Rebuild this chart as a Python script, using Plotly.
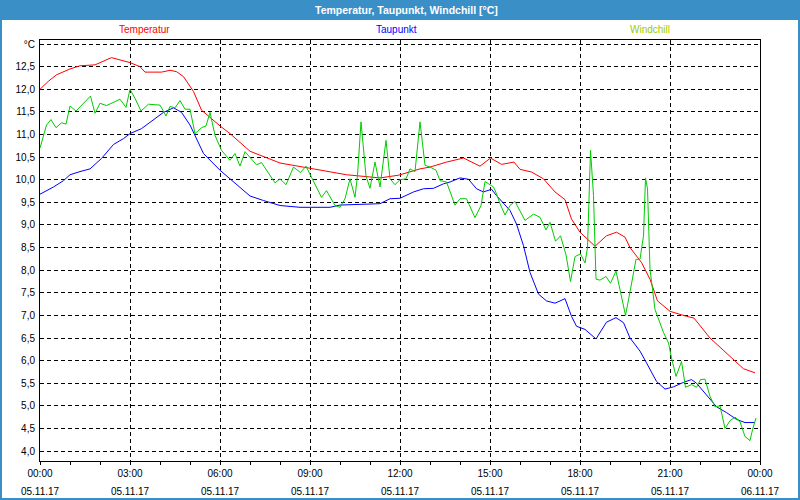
import plotly.graph_objects as go
import pandas as pd

DAY = "2017-11-05"

# Temperatur (minutes after midnight, °C)
temp_min = [0, 17, 33, 60, 80, 110, 143, 167, 180, 200, 210, 243, 260, 273, 287, 307, 323, 360, 380, 420,
            480, 547, 613, 680, 717, 760, 780, 813, 847, 880, 901, 923, 948, 960, 983, 1007, 1030, 1050,
            1063, 1080, 1110, 1133, 1153, 1170, 1180, 1203, 1220, 1235, 1260, 1293, 1308, 1340, 1373,
            1383, 1407, 1430]
temp_val = [12.00, 12.18, 12.32, 12.45, 12.52, 12.54, 12.70, 12.63, 12.59, 12.50, 12.38, 12.38, 12.42, 12.39,
            12.28, 11.95, 11.54, 11.19, 11.02, 10.63, 10.37, 10.24, 10.11, 10.04, 10.10, 10.24, 10.28, 10.39,
            10.48, 10.30, 10.48, 10.34, 10.39, 10.23, 10.17, 10.02, 9.73, 9.56, 9.13, 8.84, 8.53, 8.76, 8.84,
            8.73, 8.50, 8.17, 7.80, 7.32, 7.09, 6.98, 6.94, 6.50, 6.17, 6.06, 5.82, 5.73]

# Taupunkt
dew_min = [0, 27, 47, 60, 80, 100, 123, 147, 167, 180, 203, 227, 247, 267, 283, 300, 327, 360, 387, 420,
           447, 480, 520, 580, 600, 680, 700, 720, 747, 767, 787, 807, 820, 840, 857, 873, 887, 903, 913,
           940, 953, 967, 980, 997, 1013, 1030, 1050, 1063, 1073, 1090, 1112, 1133, 1152, 1167, 1180, 1200,
           1213, 1233, 1250, 1267, 1287, 1303, 1313, 1333, 1353, 1373, 1393, 1410, 1430]
dew_val = [9.68, 9.84, 9.98, 10.11, 10.18, 10.24, 10.47, 10.78, 10.91, 11.02, 11.13, 11.32, 11.49, 11.59,
           11.49, 11.21, 10.58, 10.21, 9.95, 9.64, 9.54, 9.43, 9.39, 9.39, 9.44, 9.47, 9.58, 9.59, 9.73, 9.80,
           9.81, 9.91, 9.95, 10.04, 10.01, 9.80, 9.73, 9.79, 9.65, 9.32, 9.02, 8.54, 7.95, 7.47, 7.32, 7.27,
           7.37, 6.98, 6.76, 6.69, 6.48, 6.85, 6.95, 6.84, 6.50, 6.21, 5.95, 5.54, 5.37, 5.42, 5.52, 5.58,
           5.50, 5.24, 4.98, 4.85, 4.70, 4.63, 4.63]

# Windchill
wc_min = [0, 13, 22, 32, 43, 52, 60, 72, 101, 110, 120, 133, 160, 172, 180, 190, 202, 217, 240, 252, 260,
          270, 280, 290, 300, 310, 323, 332, 340, 350, 363, 380, 390, 400, 410, 423, 433, 443, 470, 480,
          492, 507, 521, 532, 543, 563, 573, 590, 600, 610, 620, 630, 635, 642, 652, 660, 670, 680, 692,
          700, 710, 720, 732, 740, 750, 760, 770, 780, 792, 800, 813, 830, 840, 853, 870, 882, 890, 907,
          913, 920, 930, 940, 950, 970, 987, 1000, 1012, 1020, 1031, 1041, 1052, 1061, 1070, 1081, 1090,
          1095, 1101, 1107, 1112, 1120, 1132, 1141, 1152, 1161, 1171, 1180, 1192, 1200, 1207, 1211, 1215,
          1220, 1230, 1247, 1257, 1263, 1272, 1283, 1291, 1303, 1313, 1321, 1330, 1340, 1350, 1360, 1370,
          1380, 1390, 1400, 1410, 1420, 1425, 1432]
wc_val = [10.70, 11.21, 11.33, 11.15, 11.26, 11.23, 11.63, 11.52, 11.85, 11.47, 11.69, 11.64, 11.78, 11.60,
          12.00, 11.80, 11.52, 11.67, 11.65, 11.41, 11.62, 11.59, 11.75, 11.56, 11.56, 11.02, 11.15, 11.19,
          11.49, 10.98, 10.65, 10.43, 10.58, 10.30, 10.62, 10.45, 10.33, 10.38, 9.93, 10.02, 9.89, 10.28,
          10.16, 10.30, 10.06, 9.61, 9.76, 9.43, 9.39, 9.58, 10.02, 9.61, 10.10, 11.28, 10.08, 9.81, 10.39,
          9.84, 10.87, 10.02, 9.89, 10.00, 10.02, 10.24, 10.18, 11.28, 10.32, 10.28, 10.21, 9.98, 9.95, 9.44,
          9.58, 9.58, 9.16, 9.43, 9.96, 9.84, 9.69, 9.47, 9.22, 9.43, 9.52, 9.10, 9.24, 9.17, 8.89, 9.06,
          8.64, 8.76, 8.34, 7.75, 8.30, 8.36, 8.16, 8.50, 10.65, 9.65, 7.80, 7.78, 7.86, 7.71, 7.98, 7.50,
          7.00, 7.52, 8.24, 8.24, 8.76, 10.04, 9.80, 8.02, 7.13, 6.62, 6.39, 6.06, 5.65, 5.98, 5.41, 5.47,
          5.41, 5.58, 5.59, 5.21, 4.98, 5.00, 4.50, 4.67, 4.75, 4.65, 4.32, 4.23, 4.47, 4.73]

y_ticks = [4.0 + 0.5 * i for i in range(19)]
y_labels = [f"{v:.1f}".replace(".", ",") for v in y_ticks[:-1]] + ["°C"]

series_names = ["Temperatur", "Taupunkt", "Windchill"]
line_colors = ["#ff0000", "#0000ff", "#00cc00"]
label_colors = ["#ff0000", "#0000ff", "#99cc00"]


def to_time(mins):
    return pd.Timestamp(DAY) + pd.to_timedelta(mins, unit="m")


FONT = "Liberation Sans, Arial, sans-serif"
fig = go.Figure()
for name, mins, vals, col in zip(series_names, [temp_min, dew_min, wc_min],
                                 [temp_val, dew_val, wc_val], line_colors):
    fig.add_trace(go.Scatter(x=to_time(mins), y=vals, mode="lines", name=name,
                             line=dict(color=col, width=1), showlegend=False))

x_range = [pd.Timestamp(DAY), pd.Timestamp(DAY) + pd.Timedelta(days=1)]
fig.add_trace(go.Scatter(x=x_range, y=[None, None], xaxis="x2", showlegend=False,
                         hoverinfo="skip", mode="lines"))

# geometry helpers (pixels -> paper)
L, R, T, B, W, H = 40, 40, 40, 39, 800, 500
pw, ph = W - L - R, H - T - B


def px(x):
    return (x - L) / pw


def py(y):
    return (H - B - y) / ph


grid = dict(showgrid=True, gridcolor="black", gridwidth=1, griddash="4px,3px")
fig.update_layout(
    width=W, height=H,
    margin=dict(l=L, r=R, t=T, b=B, pad=0, autoexpand=False),
    paper_bgcolor="white", plot_bgcolor="white",
    font=dict(family=FONT, size=10, color="black"),
    xaxis=dict(type="date", range=x_range, tick0=DAY, dtick=3 * 3600000, tickformat="%H:%M",
               showline=True, linecolor="black", linewidth=1, mirror=True, automargin=False,
               ticks="outside", ticklen=3, tickcolor="black", zeroline=False,
               minor=dict(dtick=3600000, ticks="outside", ticklen=3, tickcolor="black", showgrid=False),
               tickfont=dict(size=10), **grid),
    xaxis2=dict(type="date", range=x_range, tick0=DAY, dtick=3 * 3600000, tickformat="%d.%m.%y",
                overlaying="x", anchor="y", side="bottom", showgrid=False, showline=False,
                automargin=False, ticks="", ticklabelstandoff=23, zeroline=False, tickfont=dict(size=10)),
    yaxis=dict(range=[3.78, 13.09], tickvals=y_ticks, ticktext=y_labels, automargin=False,
               showline=True, linecolor="black", linewidth=1, mirror=True,
               ticks="", zeroline=False, ticklabelstandoff=2, tickfont=dict(size=10), **grid),
    shapes=[
        dict(type="rect", xref="paper", yref="paper", x0=px(0), x1=px(800), y0=py(20), y1=py(0),
             fillcolor="#3b8fc7", line=dict(width=0), layer="below"),
        dict(type="rect", xref="paper", yref="paper", x0=px(0), x1=px(2), y0=py(500), y1=py(0),
             fillcolor="#3b8fc7", line=dict(width=0)),
        dict(type="rect", xref="paper", yref="paper", x0=px(798), x1=px(800), y0=py(500), y1=py(0),
             fillcolor="#3b8fc7", line=dict(width=0)),
        dict(type="rect", xref="paper", yref="paper", x0=px(0), x1=px(800), y0=py(500), y1=py(498),
             fillcolor="#3b8fc7", line=dict(width=0)),
    ],
    annotations=[
        dict(text="<b>Temperatur, Taupunkt, Windchill [°C]</b>", xref="paper", yref="paper",
             x=px(406), y=py(10), showarrow=False, font=dict(size=10.5, color="white", family=FONT),
             xanchor="center", yanchor="middle"),
    ] + [
        dict(text=n, xref="paper", yref="paper", x=px(cx), y=py(30), showarrow=False,
             font=dict(size=10, color=c, family=FONT), xanchor="center", yanchor="middle")
        for n, cx, c in zip(series_names, [144, 396, 650], label_colors)
    ],
)

fig.write_html("out.html", config={"displayModeBar": False},
               post_script="document.body.style.margin='0';document.body.style.overflow='hidden';")
